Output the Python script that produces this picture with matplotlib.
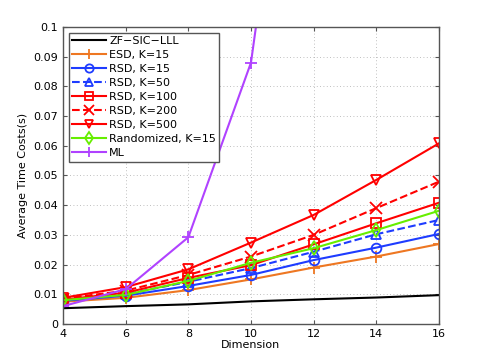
import matplotlib
matplotlib.use("Agg")
import matplotlib.pyplot as plt

# 数据
dims = [4, 6, 8, 10, 12, 14, 16]
zf_lll = [0.0053, 0.0060, 0.0066, 0.0076, 0.0083, 0.0089, 0.0097]
esd_15 = [0.0075, 0.0088, 0.0114, 0.0150, 0.0190, 0.0227, 0.0269]
rsd_15 = [0.0078, 0.0095, 0.0128, 0.0165, 0.0215, 0.0257, 0.0303]
rsd_50 = [0.0080, 0.0100, 0.0142, 0.0188, 0.0243, 0.0302, 0.0350]
rsd_100 = [0.0082, 0.0105, 0.0155, 0.0198, 0.0268, 0.0339, 0.0408]
rsd_200 = [0.0085, 0.0112, 0.0165, 0.0227, 0.0300, 0.0390, 0.0479]
rsd_500 = [0.0088, 0.0124, 0.0184, 0.0274, 0.0367, 0.0485, 0.0608]
rand_15 = [0.0080, 0.0098, 0.0145, 0.0206, 0.0255, 0.0316, 0.0381]
ml = [0.0060, 0.0117, 0.0292, 0.0880, 0.2400, 0.6500, 1.7000]

labels = ["ZF\u2212SIC\u2212LLL", "ESD, K=15", "RSD, K=15", "RSD, K=50", "RSD, K=100",
          "RSD, K=200", "RSD, K=500", "Randomized, K=15", "ML"]
yticks = [0, 0.01, 0.02, 0.03, 0.04, 0.05, 0.06, 0.07, 0.08, 0.09, 0.1]
ytick_labels = ["0", "0.01", "0.02", "0.03", "0.04", "0.05", "0.06", "0.07", "0.08", "0.09", "0.1"]

orange = "#EE7722"
blue = "#1E3CFF"
red = "#FF0000"
green = "#66EE00"
purple = "#B042FF"

fig = plt.figure(figsize=(4.85, 3.64), dpi=100)
ax = fig.add_axes([0.130, 0.110, 0.775, 0.816])

series = [
    (zf_lll, "k", "-", "None"),
    (esd_15, orange, "-", "+"),
    (rsd_15, blue, "-", "o"),
    (rsd_50, blue, "--", "^"),
    (rsd_100, red, "-", "s"),
    (rsd_200, red, "--", "x"),
    (rsd_500, red, "-", "v"),
    (rand_15, green, "-", "d"),
    (ml, purple, "-", "+"),
]
for (vals, c, ls, mk), lab in zip(series, labels):
    ms = 8 if mk in ("+", "x") else 7
    ax.plot(dims, vals, color=c, linestyle=ls, marker=mk, markersize=ms,
            markerfacecolor="none", markeredgewidth=1.3, linewidth=1.5, label=lab)

ax.set_xlim(4, 16)
ax.set_ylim(0, 0.1)
ax.set_xticks(dims)
ax.set_yticks(yticks)
ax.set_yticklabels(ytick_labels)
ax.tick_params(direction="in", top=True, right=True, labelsize=8, length=3, color="#555555")
ax.grid(True, linestyle=(0, (1, 3)), color="#aaaaaa", linewidth=0.6)
for s in ax.spines.values():
    s.set_color("#555555")
    s.set_linewidth(1.0)

ax.set_xlabel("Dimension", fontsize=8, labelpad=1)
ax.set_ylabel("Average Time Costs(s)", fontsize=8)

leg = ax.legend(loc="upper left", fontsize=8, fancybox=False, framealpha=1,
                edgecolor="#555555", handlelength=3.0, borderaxespad=0.55,
                labelspacing=0.36, handletextpad=0.3, borderpad=0.3,
                markerscale=0.85)
leg.get_frame().set_linewidth(1.0)

fig.savefig("out.png", dpi=100)
